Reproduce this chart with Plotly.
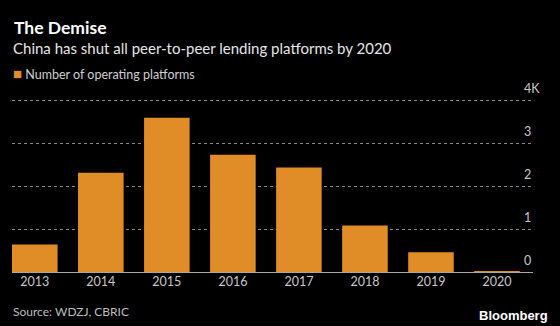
import plotly.graph_objects as go

years = ["2013", "2014", "2015", "2016", "2017", "2018", "2019", "2020"]
platforms = [640, 2310, 3590, 2730, 2430, 1080, 460, 6]
series_name = "Number of operating platforms"
y_tickvals = [0, 1000, 2000, 3000, 4000]
y_ticktext = ["0", "1", "2", "3", "4K"]

W, H = 560, 326
L, R, T, B = 12, 0, 99, 54
plot_w = W - L - R

ORANGE = "#E08D28"
FONT = "Lato"

fig = go.Figure()
fig.add_trace(go.Bar(
    x=years, y=platforms, name=series_name,
    marker=dict(color=ORANGE, line=dict(width=0)),
    width=0.69, showlegend=False,
))

fig.update_layout(
    width=W, height=H,
    margin=dict(l=L, r=R, t=T, b=B),
    paper_bgcolor="#000000", plot_bgcolor="#000000",
    font=dict(family=FONT, color="#cccccc", size=12),
    xaxis=dict(
        type="category", range=[-0.345, 7.545],
        domain=[0, (533 - L) / plot_w],
        showgrid=False, showline=False, ticks="",
        tickfont=dict(size=12.5, color="#c8c8c8"),
        zeroline=False,
    ),
    yaxis=dict(
        range=[0, 4025], tickvals=y_tickvals, ticktext=y_ticktext,
        side="right", anchor="free", position=(523 - L) / plot_w,
        showgrid=True, gridcolor="#8a8a8a", griddash="dot", gridwidth=1,
        zeroline=True, zerolinecolor="#a8a8a8", zerolinewidth=1.2,
        showline=False, ticks="",
        tickfont=dict(size=12.5, color="#c8c8c8"),
        ticklabelshift=-11,
    ),
    bargap=0.31,
)

# Title & subtitle
fig.add_annotation(text="<b>The Demise</b>", x=0, y=1, xref="paper", yref="paper",
                   xanchor="left", yanchor="top", showarrow=False,
                   xshift=-L + 12, yshift=T - 15,
                   font=dict(family=FONT, size=17.5, color="#ffffff"))
fig.add_annotation(text="China has shut all peer-to-peer lending platforms by 2020",
                   x=0, y=1, xref="paper", yref="paper",
                   xanchor="left", yanchor="top", showarrow=False,
                   xshift=-L + 11, yshift=T - 37,
                   font=dict(family=FONT, size=15, color="#e6e6e6"))
# Legend
fig.add_annotation(text="<span style='color:%s;font-size:15px'>■</span> %s" % (ORANGE, series_name),
                   x=0, y=1, xref="paper", yref="paper",
                   xanchor="left", yanchor="top", showarrow=False,
                   xshift=-L + 11, yshift=T - 62,
                   font=dict(family=FONT, size=12.5, color="#cfcfcf"))
# Source & logo
fig.add_annotation(text="Source: WDZJ, CBRIC", x=0, y=0, xref="paper", yref="paper",
                   xanchor="left", yanchor="top", showarrow=False,
                   xshift=-L + 11, yshift=-(302 - (H - B)),
                   font=dict(family=FONT, size=12, color="#bdbdbd"))
fig.add_annotation(text="<b>Bloomberg</b>", x=1, y=0, xref="paper", yref="paper",
                   xanchor="right", yanchor="top", showarrow=False,
                   xshift=-10, yshift=-(306 - (H - B)),
                   font=dict(family="Liberation Sans", size=13, color="#ffffff"))

fig.write_html("out.html")
